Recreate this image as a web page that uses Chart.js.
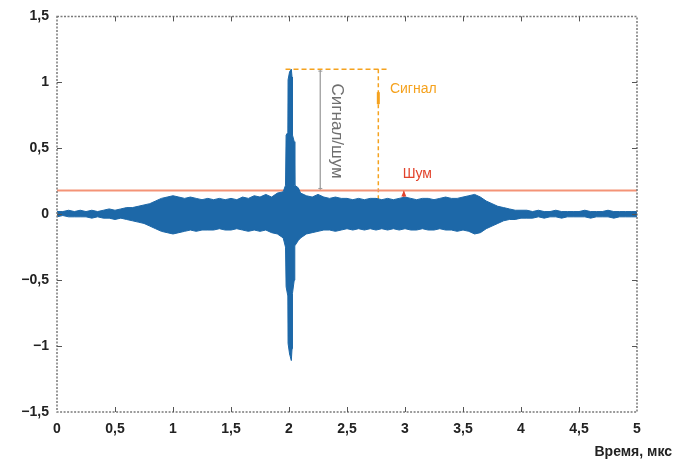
<!DOCTYPE html>
<html>
<head>
<meta charset="utf-8">
<script src="https://cdn.jsdelivr.net/npm/chart.js@4"></script>
<style>
  html, body { margin: 0; padding: 0; background: #fff; }
  #wrap { width: 674px; height: 462px; position: relative; }
</style>
</head>
<body>
<div id="wrap"><canvas id="pulseChart"></canvas></div>
<script>
// time, microseconds
const timeUs = [
  0, 0.05, 0.1, 0.15, 0.2, 0.25, 0.3, 0.35, 0.4, 0.45,
  0.5, 0.55, 0.6, 0.65, 0.7, 0.75, 0.8, 0.85, 0.9, 0.95,
  1, 1.05, 1.1, 1.15, 1.2, 1.25, 1.3, 1.35, 1.4, 1.45,
  1.5, 1.55, 1.6, 1.65, 1.7, 1.75, 1.8, 1.85, 1.9, 1.95,
  1.97, 1.975, 1.99, 1.992, 2.005, 2.02, 2.026, 2.03, 2.045, 2.05, 2.08,
  2.1, 2.15, 2.2, 2.25, 2.3, 2.35, 2.4, 2.45,
  2.5, 2.55, 2.6, 2.65, 2.7, 2.75, 2.8, 2.85, 2.9, 2.95,
  3, 3.05, 3.1, 3.15, 3.2, 3.25, 3.3, 3.35, 3.4, 3.45,
  3.5, 3.55, 3.6, 3.65, 3.7, 3.75, 3.8, 3.85, 3.9, 3.95,
  4, 4.05, 4.1, 4.15, 4.2, 4.25, 4.3, 4.35, 4.4, 4.45,
  4.5, 4.55, 4.6, 4.65, 4.7, 4.75, 4.8, 4.85, 4.9, 4.95, 5
];

// upper / lower envelope of the waveform
const upperEnv = [
  0.02, 0.02, 0.03, 0.02, 0.03, 0.02, 0.03, 0.02, 0.03, 0.04,
  0.03, 0.04, 0.05, 0.05, 0.06, 0.07, 0.08, 0.10, 0.12, 0.13,
  0.14, 0.13, 0.12, 0.13, 0.12, 0.11, 0.12, 0.11, 0.12, 0.11,
  0.12, 0.11, 0.13, 0.12, 0.14, 0.13, 0.15, 0.13, 0.16, 0.17,
  0.22, 0.60, 0.62, 1.02, 1.08, 1.10, 1.04, 0.60, 0.55, 0.22, 0.20,
  0.16, 0.14, 0.13, 0.15, 0.13, 0.12, 0.13, 0.12,
  0.12, 0.11, 0.12, 0.11, 0.12, 0.12, 0.11, 0.12, 0.11, 0.12,
  0.13, 0.12, 0.11, 0.12, 0.12, 0.11, 0.12, 0.13, 0.12, 0.12,
  0.13, 0.14, 0.15, 0.13, 0.10, 0.08, 0.06, 0.05, 0.04, 0.03,
  0.03, 0.03, 0.02, 0.03, 0.02, 0.02, 0.03, 0.02, 0.02, 0.02,
  0.02, 0.03, 0.02, 0.02, 0.02, 0.03, 0.02, 0.02, 0.02, 0.02, 0.02
];
const lowerEnv = [
  -0.02, -0.01, -0.02, -0.02, -0.02, -0.02, -0.03, -0.02, -0.03, -0.03,
  -0.04, -0.03, -0.04, -0.05, -0.06, -0.07, -0.09, -0.11, -0.13, -0.14,
  -0.15, -0.14, -0.13, -0.12, -0.13, -0.12, -0.12, -0.12, -0.11, -0.12,
  -0.12, -0.11, -0.12, -0.13, -0.12, -0.13, -0.12, -0.14, -0.15, -0.18,
  -0.25, -0.55, -0.62, -0.98, -1.06, -1.11, -1.02, -0.60, -0.50, -0.24, -0.20,
  -0.18, -0.15, -0.14, -0.13, -0.12, -0.12, -0.13, -0.12,
  -0.11, -0.12, -0.11, -0.12, -0.11, -0.12, -0.11, -0.12, -0.11, -0.12,
  -0.11, -0.12, -0.12, -0.11, -0.12, -0.12, -0.11, -0.12, -0.12, -0.13,
  -0.12, -0.13, -0.15, -0.14, -0.11, -0.09, -0.07, -0.05, -0.04, -0.04,
  -0.03, -0.03, -0.03, -0.02, -0.03, -0.02, -0.02, -0.03, -0.02, -0.02,
  -0.02, -0.02, -0.03, -0.02, -0.02, -0.02, -0.03, -0.02, -0.02, -0.02, -0.02
];

const noiseLevel = 0.18;
const signalPeak = 1.1;
const peakLineX = [1.97, 2.85];
const signalLineX = 2.77;
const snrLineX = 2.27;
const noiseMarkX = 2.99;

const xTicks = [0, 0.5, 1, 1.5, 2, 2.5, 3, 3.5, 4, 4.5, 5];
const yTicks = [-1.5, -1, -0.5, 0, 0.5, 1, 1.5];

const waveColor = "#1d68a8";
const orange = "#f5a21e";
const noiseColor = "#f49377";
const labelFont = "bold 14px 'Liberation Sans Narrow', 'Liberation Sans', Arial, sans-serif";

function toPoints(xs, ys) {
  return xs.map((x, index) => ({ x, y: ys[index] }));
}

function formatTick(value) {
  return String(value).replace(".", ",").replace("-", "\u2212");
}

const framePlugin = {
  id: "framePlugin",
  afterDatasetsDraw(chart) {
    const { ctx, chartArea: area, scales } = chart;
    ctx.save();

    ctx.strokeStyle = "#7a7a7a";
    ctx.lineWidth = 1.5;
    ctx.setLineDash([2, 1.5]);
    ctx.strokeRect(area.left, area.top, area.right - area.left, area.bottom - area.top);
    ctx.setLineDash([]);

    ctx.strokeStyle = "#555";
    ctx.lineWidth = 1;
    xTicks.slice(1, -1).forEach((value) => {
      const px = Math.round(scales.x.getPixelForValue(value)) + 0.5;
      ctx.beginPath();
      ctx.moveTo(px, area.bottom);
      ctx.lineTo(px, area.bottom - 5);
      ctx.moveTo(px, area.top);
      ctx.lineTo(px, area.top + 5);
      ctx.stroke();
    });
    yTicks.slice(1, -1).forEach((value) => {
      const py = Math.round(scales.y.getPixelForValue(value)) + 0.5;
      ctx.beginPath();
      ctx.moveTo(area.left, py);
      ctx.lineTo(area.left + 5, py);
      ctx.moveTo(area.right, py);
      ctx.lineTo(area.right - 5, py);
      ctx.stroke();
    });

    // annotation texts
    const sx = scales.x;
    const sy = scales.y;
    ctx.font = "14px 'Liberation Sans Narrow', 'Liberation Sans', Arial, sans-serif";
    ctx.textBaseline = "middle";
    ctx.textAlign = "left";
    ctx.fillStyle = orange;
    ctx.fillText("Сигнал", sx.getPixelForValue(2.87), sy.getPixelForValue(0.95));
    ctx.fillStyle = "#e2432c";
    ctx.fillText("Шум", sx.getPixelForValue(2.98), sy.getPixelForValue(0.3));

    ctx.save();
    ctx.translate(sx.getPixelForValue(2.41), sy.getPixelForValue(0.63));
    ctx.rotate(Math.PI / 2);
    ctx.textAlign = "center";
    ctx.fillStyle = "#6f6f6f";
    ctx.font = "17px 'Liberation Sans Narrow', 'Liberation Sans', Arial, sans-serif";
    ctx.fillText("Сигнал/шум", 0, 0);
    ctx.restore();

    // small markers on the signal and noise lines
    const mx = sx.getPixelForValue(signalLineX);
    const my = sy.getPixelForValue(0.88);
    ctx.fillStyle = orange;
    ctx.fillRect(mx - 1.5, my - 6, 3, 12);
    const nx = sx.getPixelForValue(noiseMarkX);
    const ny = sy.getPixelForValue(noiseLevel);
    ctx.fillStyle = "#e2432c";
    ctx.beginPath();
    ctx.moveTo(nx, ny);
    ctx.lineTo(nx - 2.5, ny + 6);
    ctx.lineTo(nx + 2.5, ny + 6);
    ctx.closePath();
    ctx.fill();

    // gray line end caps
    const gx = sx.getPixelForValue(snrLineX);
    ctx.strokeStyle = "#9a9a9a";
    [signalPeak, noiseLevel].forEach((value) => {
      const gy = sy.getPixelForValue(value);
      ctx.beginPath();
      ctx.moveTo(gx - 2, gy + (value > 1 ? 2 : -2));
      ctx.lineTo(gx + 2, gy + (value > 1 ? 2 : -2));
      ctx.stroke();
    });

    // x axis title
    ctx.font = labelFont;
    ctx.fillStyle = "#222";
    ctx.textAlign = "right";
    ctx.fillText("Время, мкс", 672, 452);

    ctx.restore();
  }
};

new Chart(document.getElementById("pulseChart"), {
  type: "line",
  data: {
    datasets: [
      {
        data: toPoints(timeUs, upperEnv),
        borderColor: waveColor,
        borderWidth: 1,
        pointRadius: 0,
        fill: false
      },
      {
        data: toPoints(timeUs, lowerEnv),
        borderColor: waveColor,
        backgroundColor: waveColor,
        borderWidth: 1,
        pointRadius: 0,
        fill: "-1"
      },
      {
        data: toPoints([0, 5], [noiseLevel, noiseLevel]),
        borderColor: noiseColor,
        borderWidth: 2,
        pointRadius: 0
      },
      {
        data: toPoints(peakLineX, [signalPeak, signalPeak]),
        borderColor: orange,
        borderWidth: 1.5,
        borderDash: [5, 3],
        pointRadius: 0
      },
      {
        data: toPoints([signalLineX, signalLineX], [signalPeak, 0]),
        borderColor: orange,
        borderWidth: 1.5,
        borderDash: [4, 3],
        pointRadius: 0
      },
      {
        data: toPoints([snrLineX, snrLineX], [signalPeak, noiseLevel]),
        borderColor: "#a8a8a8",
        borderWidth: 1,
        pointRadius: 0
      },
      {
        data: toPoints([noiseMarkX, noiseMarkX], [noiseLevel, 0]),
        borderColor: "#e2432c",
        borderWidth: 1,
        borderDash: [3, 2],
        pointRadius: 0
      }
    ]
  },
  options: {
    responsive: true,
    maintainAspectRatio: false,
    animation: false,
    layout: { padding: { top: 16, right: 37, left: 0, bottom: 0 } },
    plugins: {
      legend: { display: false },
      tooltip: { enabled: false }
    },
    scales: {
      x: {
        type: "linear",
        min: 0,
        max: 5,
        afterBuildTicks(axis) {
          axis.ticks = xTicks.map((value) => ({ value }));
        },
        afterFit(axis) { axis.height = 50; },
        grid: { display: false, drawTicks: false },
        border: { display: false },
        ticks: {
          padding: 9,
          color: "#222",
          maxRotation: 0,
          font: { family: "'Liberation Sans Narrow', 'Liberation Sans', Arial", size: 14, weight: "bold" },
          callback: formatTick
        }
      },
      y: {
        min: -1.5,
        max: 1.5,
        afterBuildTicks(axis) {
          axis.ticks = yTicks.map((value) => ({ value }));
        },
        afterFit(axis) { axis.width = 57; },
        grid: { display: false, drawTicks: false },
        border: { display: false },
        ticks: {
          padding: 8,
          color: "#222",
          font: { family: "'Liberation Sans Narrow', 'Liberation Sans', Arial", size: 14, weight: "bold" },
          callback: formatTick
        }
      }
    }
  },
  plugins: [framePlugin]
});
</script>
</body>
</html>
